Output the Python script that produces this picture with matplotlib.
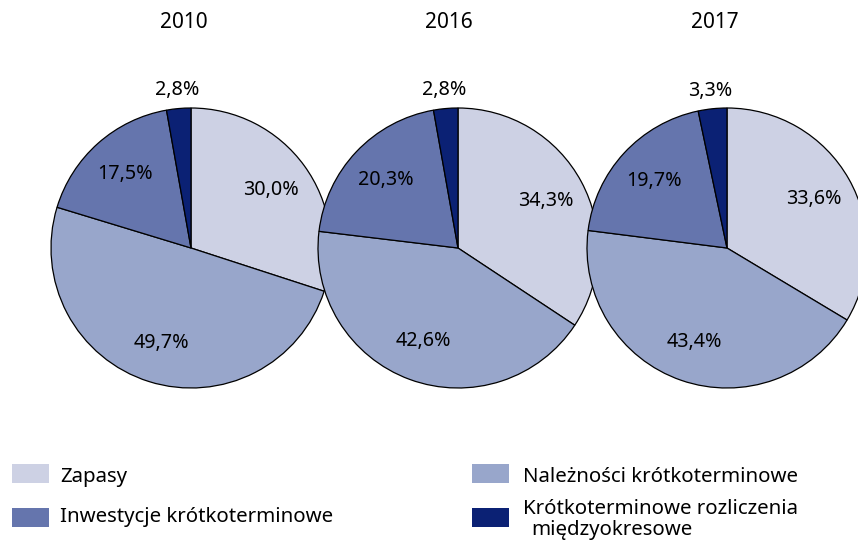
import matplotlib
matplotlib.use("Agg")
import matplotlib.pyplot as plt
import numpy as np
from matplotlib.patches import Rectangle

plt.rcParams['font.family'] = ['Noto Sans', 'DejaVu Sans']

years = ["2010", "2016", "2017"]
categories = ["Zapasy", "Należności krótkoterminowe", "Inwestycje krótkoterminowe",
              "Krótkoterminowe rozliczenia", "międzyokresowe"]
zapasy = [30.0, 34.3, 33.6]
naleznosci = [49.7, 42.6, 43.4]
inwestycje = [17.5, 20.3, 19.7]
rozliczenia = [2.8, 2.8, 3.3]
colors = ["#cdd1e4", "#98a6cb", "#6575ad", "#0b2174"]

W, H = 858, 542
fig = plt.figure(figsize=(W/100, H/100), dpi=100)
ax = fig.add_axes([0, 0, 1, 1])

centers_x = [191, 458, 727]
title_x = [184, 449, 715]
cy = H - 248
R = 140

for i, yr in enumerate(years):
    vals = [zapasy[i], naleznosci[i], inwestycje[i], rozliczenia[i]]
    wedges, _ = ax.pie(vals, colors=colors, startangle=90, counterclock=False,
                       center=(centers_x[i], cy), radius=R, frame=True,
                       wedgeprops=dict(edgecolor='black', linewidth=0.9))
    for w, v in zip(wedges, vals):
        ang = np.deg2rad((w.theta1 + w.theta2) / 2)
        d = 0.71 * R if v > 5 else 1.13 * R
        ax.text(centers_x[i] + d*np.cos(ang), cy + d*np.sin(ang),
                f"{v:.1f}".replace('.', ',') + "%", ha='center', va='center',
                fontsize=14.2)
    ax.text(title_x[i], H - 22, yr, ha='center', va='center', fontsize=15)

ax.set_xlim(0, W)
ax.set_ylim(0, H)
ax.set_aspect('equal')
ax.axis('off')

# legend: (patch x, patch top, text x, baseline, label, colour)
leg = [(12, 464, 60, 482, categories[0], colors[0]),
       (472, 464, 523, 482, categories[1], colors[1]),
       (12, 508, 60, 522, categories[2], colors[2]),
       (472, 508, 523, 514, categories[3], colors[3])]
for px, py, tx, bl, lab, c in leg:
    ax.add_patch(Rectangle((px, H - py - 19), 37, 19, facecolor=c, edgecolor='none'))
    ax.text(tx, H - bl, lab, ha='left', va='baseline', fontsize=14.7)
ax.text(531, H - 535, categories[4], ha='left', va='baseline', fontsize=14.7)

fig.savefig("out.png", dpi=100)
